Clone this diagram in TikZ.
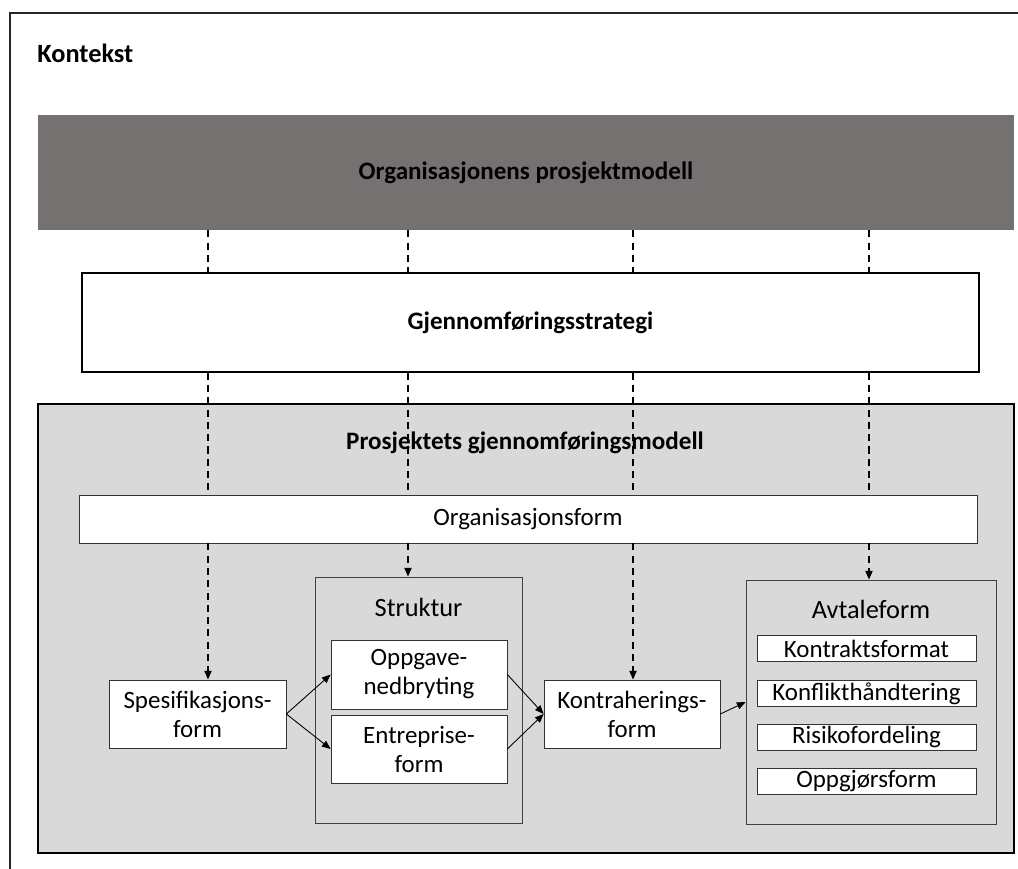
\documentclass[tikz,border=0pt]{standalone}
\usepackage{fontspec}
\setmainfont{Carlito}
\usetikzlibrary{arrows.meta, positioning}
\definecolor{barGray}{HTML}{767171}
\definecolor{panelGray}{HTML}{D9D9D9}

\begin{document}
\begin{tikzpicture}[
    x=0.02cm, y=-0.02cm,
    % Node styles
    box/.style={
        draw=black!80, fill=white, inner sep=0pt, align=center,
        font=\fontsize{14.2}{16.5}\selectfont,
      },
    frame box/.style={draw=black!75, inner sep=0pt},
    plain label/.style={font=\fontsize{15}{17}\selectfont},
    title/.style={font=\fontsize{14.3}{17}\selectfont\bfseries},
    % Edge styles
    guide/.style={draw, dash pattern=on 4pt off 3pt, line width=1pt},
    flow/.style={draw, line width=0.5pt, -{Triangle[length=5pt, width=4pt]}},
  ]
  \useasboundingbox (0,0) rectangle (1018,869);
  \draw[line width=1pt, black!85] (10,869) -- (10,13) -- (1018,13);
  \node[title, font=\fontsize{15}{17}\selectfont\bfseries, anchor=west, inner sep=0pt] (kontekst) at (37,53) {Kontekst};

  % --- upper levels ---
  \node[title, fill=barGray, minimum width=19.52cm, minimum height=2.3cm] (model) at (526,172.5) {Organisasjonens prosjektmodell};
  \node[title, draw, line width=0.8pt, fill=white, minimum width=17.94cm, minimum height=1.98cm] (strategi) at (530.5,322.5) {Gjennomføringsstrategi};
  \node[draw, line width=1.4pt, fill=panelGray, minimum width=19.52cm, minimum height=8.98cm] (panel) at (526,628.5) {};
  \node[title] (panelTitle) at (525,443) {Prosjektets gjennomføringsmodell};
  \node[box, minimum width=17.96cm, minimum height=0.96cm] (orgform) at (528,519) {Organisasjonsform};

  % --- model parts ---
  \node[box, minimum width=3.54cm, minimum height=1.36cm] (spes) at (197.5,714) {Spesifikasjons-\\form};
  \node[frame box, minimum width=4.14cm, minimum height=4.92cm] (struktur) at (418.5,700) {};
  \node[plain label] (strukturLabel) at (418.5,607) {Struktur};
  \node[box, minimum width=3.52cm, minimum height=1.38cm] (oppg) at (419,674.5) {Oppgave-\\nedbryting};
  \node[box, minimum width=3.52cm, minimum height=1.36cm] (entr) at (419,749) {Entreprise-\\form};
  \node[box, minimum width=3.52cm, minimum height=1.36cm] (kontr) at (632,714) {Kontraherings-\\form};
  \node[frame box, minimum width=5cm, minimum height=4.88cm] (avtale) at (871,702) {};
  \node[plain label] (avtaleLabel) at (871,609) {Avtaleform};
  \foreach \name/\y/\txt in {kformat/648.5/Kontraktsformat, konflikt/693.5/Konflikthåndtering,
      risiko/737/Risikofordeling, oppgjor/781/Oppgjørsform}
    \node[box, minimum width=4.38cm, minimum height=0.52cm] (\name) at (866.5,\y) {\txt};

  % dashed guide lines
  \foreach \g/\x in {g1/208, g2/408, g3/633, g4/869}
    \coordinate (\g) at (\x,0);
  \foreach \g/\t in {g1/spes, g2/struktur, g3/kontr, g4/avtale} {
      \draw[guide] (model.south -| \g) -- (strategi.north -| \g);
      \draw[guide] (strategi.south -| \g) -- (orgform.north -| \g);
      \draw[guide, -{Triangle[length=5pt, width=4pt]}] (orgform.south -| \g) -- (\t.north -| \g);
    }

  % flow arrows
  \draw[flow] (spes.east) -- (oppg.west);
  \draw[flow] (spes.east) -- (entr.west);
  \draw[flow] (oppg.east) -- (kontr.west);
  \draw[flow] (entr.east) -- (kontr.west);
  \draw[flow] (kontr.east) -- (avtale.west);
\end{tikzpicture}
\end{document}
